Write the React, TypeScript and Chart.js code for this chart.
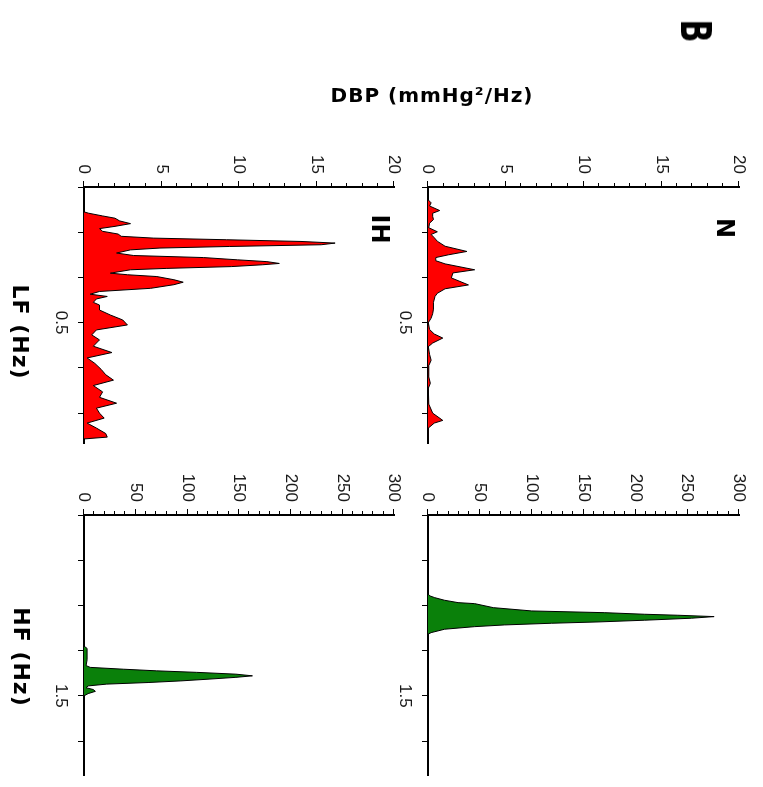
import React, { useEffect, useRef } from 'react';
import { Chart, registerables } from 'chart.js';

Chart.register(...registerables);

// ---------- figure geometry (unrotated figure, later turned 90° clockwise) ----------
const FIG_W = 787;
const FIG_H = 763;
const Y_AXIS_W = 50;
const X_AXIS_H = 40;

// ---------- data ----------
// N, LF band (mmHg²/Hz vs Hz)
const N_LF_FREQ = [0.2, 0.228, 0.235, 0.242, 0.252, 0.258, 0.265, 0.272, 0.28, 0.29, 0.299, 0.305, 0.312, 0.32, 0.331, 0.3425, 0.35, 0.356, 0.363, 0.37, 0.383, 0.39, 0.401, 0.4165, 0.425, 0.435, 0.442, 0.455, 0.47, 0.48, 0.49, 0.5, 0.515, 0.525, 0.534, 0.545, 0.553, 0.57, 0.583, 0.595, 0.62, 0.634, 0.645, 0.68, 0.7, 0.716, 0.722, 0.733, 0.766];
const N_LF_PSD = [0, 0, 0.2, 0.1, 0.75, 0.3, 0.3, 0.35, 0.1, 0.05, 0.6, 0.2, 0.4, 0.6, 1.1, 2.5, 1.3, 0.5, 0.5, 1.1, 3.0, 1.6, 1.5, 2.6, 1.1, 0.6, 0.45, 0.35, 0.35, 0.3, 0.2, 0.02, 0.1, 0.4, 0.95, 0.3, 0.02, 0.1, 0.2, 0.05, 0.05, 0.15, 0.02, 0.05, 0.3, 0.95, 0.4, 0.02, 0];

// IH, LF band
const IH_LF_FREQ = [0.2, 0.255, 0.258, 0.264, 0.269, 0.275, 0.281, 0.287, 0.292, 0.298, 0.304, 0.309, 0.313, 0.3166, 0.3204, 0.324, 0.3277, 0.3315, 0.335, 0.339, 0.346, 0.3515, 0.356, 0.361, 0.365, 0.369, 0.372, 0.376, 0.38, 0.383, 0.3905, 0.394, 0.398, 0.405, 0.4105, 0.416, 0.424, 0.431, 0.437, 0.442, 0.4475, 0.455, 0.461, 0.472, 0.483, 0.494, 0.505, 0.516, 0.527, 0.538, 0.552, 0.566, 0.578, 0.59, 0.603, 0.615, 0.627, 0.639, 0.653, 0.665, 0.678, 0.689, 0.7, 0.711, 0.722, 0.733, 0.745, 0.753, 0.757];
const IH_LF_PSD = [0, 0, 0.3, 1.2, 2.0, 2.3, 3.0, 2.0, 1.0, 1.2, 2.2, 2.4, 4.5, 9.2, 14.0, 16.2, 15.3, 9.4, 4.9, 3.0, 2.1, 3.2, 7.7, 9.9, 11.8, 12.6, 11.5, 9.5, 5.3, 3.0, 1.7, 2.8, 4.7, 5.8, 6.4, 5.8, 4.3, 1.0, 0.4, 1.5, 0.8, 0.6, 1.0, 1.0, 1.7, 2.5, 2.8, 0.8, 0.5, 1.0, 0.6, 1.8, 0.2, 0.7, 1.1, 1.4, 1.9, 0.6, 1.2, 1.0, 2.1, 0.8, 1.0, 1.3, 0.2, 0.8, 1.4, 1.5, 0];

// N, HF band
const N_HF_FREQ = [1.1, 1.275, 1.279, 1.2828, 1.2886, 1.2938, 1.296, 1.3049, 1.3122, 1.316, 1.3195, 1.3217, 1.3247, 1.3283, 1.3327, 1.3365, 1.3394, 1.3431, 1.3469, 1.3526, 1.3601, 1.3637, 1.675];
const N_HF_PSD = [0, 0, 2, 6.5, 16, 29, 45, 63, 100, 170, 209, 241, 276, 254, 209, 164, 119, 74, 45, 16, 3, 0, 0];

// IH, HF band
const IH_HF_FREQ = [1.1, 1.39, 1.395, 1.42, 1.433, 1.437, 1.441, 1.4446, 1.448, 1.452, 1.4557, 1.459, 1.463, 1.467, 1.4705, 1.474, 1.478, 1.482, 1.486, 1.49, 1.495, 1.5, 1.675];
const IH_HF_PSD = [0, 0, 3, 3, 2, 6, 38, 70, 109, 147, 163, 147, 121, 93, 62, 22, 4, 2, 9, 11, 4, 0, 0];

// ---------- axes ----------
const LF_RANGE = [0.2, 0.766];
const HF_RANGE = [1.1, 1.675];
const LF_TICKS = [0.2, 0.3, 0.4, 0.5, 0.6, 0.7];
const LF_TICK_LABELS = ['', '', '', '0.5', '', ''];
const HF_TICKS = [1.1, 1.2, 1.3, 1.4, 1.5, 1.6];
const HF_TICK_LABELS = ['', '', '', '', '1.5', ''];
const LF_Y = { max: 20, step: 5, minor: 1 };
const HF_Y = { max: 300, step: 50, minor: 10 };

const RED = '#ff0000';
const GREEN = '#0a800a';
const TICK_FONT = { family: "'Liberation Sans', Arial, sans-serif", size: 17 };
const TICK_COLOR = '#1a1a1a';

type Area = { left: number; top: number; right: number; bottom: number };
type PanelDef = {
  id: string;
  freq: number[];
  psd: number[];
  color: string;
  xRange: number[];
  xTicks: number[];
  xLabels: string[];
  yAxis: { max: number; step: number; minor: number };
  area: Area;
};

const PANELS: PanelDef[] = [
  { id: 'n-lf', freq: N_LF_FREQ, psd: N_LF_PSD, color: RED, xRange: LF_RANGE, xTicks: LF_TICKS, xLabels: LF_TICK_LABELS, yAxis: LF_Y, area: { left: 187, top: 24, right: 443, bottom: 335 } },
  { id: 'n-hf', freq: N_HF_FREQ, psd: N_HF_PSD, color: GREEN, xRange: HF_RANGE, xTicks: HF_TICKS, xLabels: HF_TICK_LABELS, yAxis: HF_Y, area: { left: 515, top: 24, right: 775, bottom: 335 } },
  { id: 'ih-lf', freq: IH_LF_FREQ, psd: IH_LF_PSD, color: RED, xRange: LF_RANGE, xTicks: LF_TICKS, xLabels: LF_TICK_LABELS, yAxis: LF_Y, area: { left: 187, top: 369, right: 443, bottom: 679 } },
  { id: 'ih-hf', freq: IH_HF_FREQ, psd: IH_HF_PSD, color: GREEN, xRange: HF_RANGE, xTicks: HF_TICKS, xLabels: HF_TICK_LABELS, yAxis: HF_Y, area: { left: 515, top: 369, right: 775, bottom: 679 } },
];

const minorTicks = {
  id: 'minorTicks',
  afterDraw(chart: any, _args: any, opts: any) {
    const y = chart.scales.y;
    const { ctx, chartArea } = chart;
    ctx.save();
    ctx.strokeStyle = '#000';
    ctx.lineWidth = 1;
    const n = Math.round(opts.max / opts.minor);
    for (let i = 0; i <= n; i++) {
      const v = i * opts.minor;
      if (Math.abs(v / opts.major - Math.round(v / opts.major)) < 1e-6) continue;
      const py = Math.round(y.getPixelForValue(v)) + 0.5;
      ctx.beginPath();
      ctx.moveTo(chartArea.left - 1, py);
      ctx.lineTo(chartArea.left - 4, py);
      ctx.stroke();
    }
    ctx.restore();
  },
};

function Panel({ def }: { def: PanelDef }) {
  const ref = useRef<HTMLCanvasElement>(null);
  useEffect(() => {
    if (!ref.current) return;
    const a = def.area;
    const chart = new Chart(ref.current, {
      type: 'line',
      data: {
        datasets: [
          {
            data: def.freq.map((f, i) => ({ x: f, y: def.psd[i] })),
            borderColor: '#000',
            borderWidth: 1,
            backgroundColor: def.color,
            fill: 'origin',
            pointRadius: 0,
            tension: 0,
          },
        ],
      },
      options: {
        animation: false,
        responsive: false,
        maintainAspectRatio: false,
        layout: {
          padding: {
            left: a.left - Y_AXIS_W,
            top: a.top,
            right: FIG_W - a.right,
            bottom: FIG_H - a.bottom - X_AXIS_H,
          },
        },
        plugins: {
          legend: { display: false },
          tooltip: { enabled: false },
          minorTicks: { max: def.yAxis.max, minor: def.yAxis.minor, major: def.yAxis.step },
        } as any,
        scales: {
          x: {
            type: 'linear',
            min: def.xRange[0],
            max: def.xRange[1],
            afterFit: (s: any) => { s.height = X_AXIS_H; },
            afterBuildTicks: (s: any) => { s.ticks = def.xTicks.map((v) => ({ value: v })); },
            ticks: {
              autoSkip: false,
              maxRotation: 0,
              minRotation: 0,
              padding: 7,
              font: TICK_FONT,
              color: TICK_COLOR,
              callback: (_v: any, i: number) => def.xLabels[i] ?? '',
            },
            grid: { drawOnChartArea: false, drawTicks: true, tickLength: 6, tickColor: '#000', tickWidth: 1 },
            border: { display: true, color: '#000', width: 2 },
          },
          y: {
            type: 'linear',
            min: 0,
            max: def.yAxis.max,
            afterFit: (s: any) => { s.width = Y_AXIS_W; },
            ticks: { stepSize: def.yAxis.step, padding: 7, font: TICK_FONT, color: TICK_COLOR },
            grid: { drawOnChartArea: false, drawTicks: true, tickLength: 6, tickColor: '#000', tickWidth: 1 },
            border: { display: true, color: '#000', width: 2 },
          },
        },
      },
      plugins: [minorTicks],
    } as any);
    return () => chart.destroy();
  }, [def]);
  return (
    <canvas
      ref={ref}
      width={FIG_W}
      height={FIG_H}
      style={{ position: 'absolute', left: 0, top: 0, width: FIG_W, height: FIG_H }}
    />
  );
}

const BOLD = "'DejaVu Sans', 'Liberation Sans', sans-serif";

function Label({ text, x, y, size, rotate = 0, spacing = 0, scaleX = 1 }: { text: string; x: number; y: number; size: number; rotate?: number; spacing?: number; scaleX?: number }) {
  return (
    <div
      style={{
        position: 'absolute',
        left: x,
        top: y,
        transform: `translate(-50%, -50%) rotate(${rotate}deg) scaleX(${scaleX})`,
        fontFamily: BOLD,
        fontWeight: 'bold',
        fontSize: size,
        lineHeight: 1,
        letterSpacing: spacing,
        whiteSpace: 'nowrap',
        color: '#000',
      }}
    >
      {text}
    </div>
  );
}

export default function App() {
  return (
    <div style={{ position: 'fixed', left: 0, top: 0, width: FIG_H, height: FIG_W, overflow: 'hidden', background: '#fff' }}>
      <div
        style={{
          position: 'absolute',
          left: 0,
          top: 0,
          width: FIG_W,
          height: FIG_H,
          transformOrigin: '0 0',
          transform: `translate(${FIG_H}px, 0px) rotate(90deg)`,
        }}
      >
        {PANELS.map((p) => (
          <Panel key={p.id} def={p} />
        ))}
        <Label text="B" x={31} y={68} size={42} scaleX={0.72} />
        <Label text="DBP (mmHg²/Hz)" x={95} y={331} size={20} rotate={-90} spacing={1} />
        <Label text="N" x={228} y={38} size={24} />
        <Label text="IH" x={229} y={383} size={24} />
        <Label text="LF (Hz)" x={332} y={743} size={22} spacing={1} />
        <Label text="HF (Hz)" x={657} y={742} size={22} spacing={1} />
      </div>
    </div>
  );
}
